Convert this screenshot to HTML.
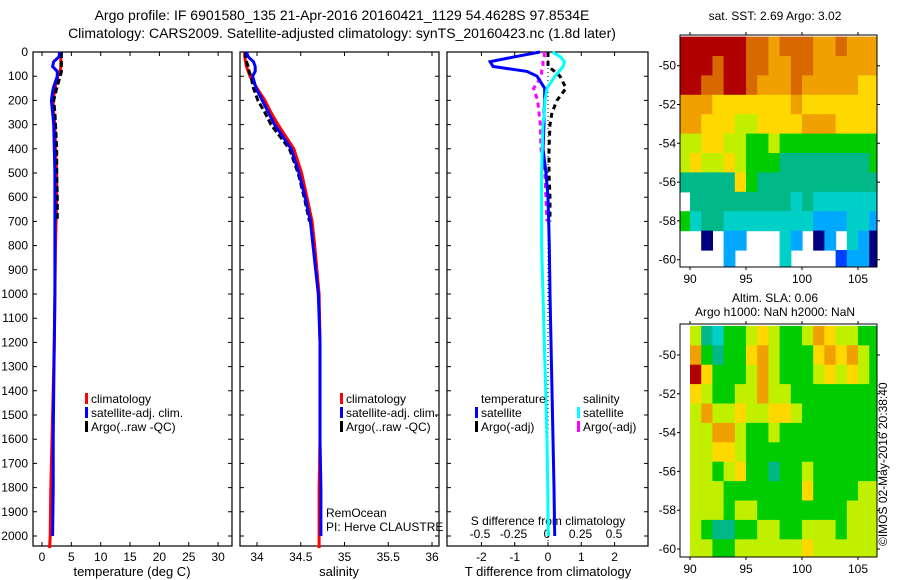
<!DOCTYPE html>
<html><head><meta charset="utf-8"><style>
body{margin:0;background:#fff}
svg{font-family:"Liberation Sans",sans-serif;display:block}
text{fill:#000}
</style></head><body>
<svg id="c" width="900" height="580" viewBox="0 0 900 580">
<text x="342" y="20" font-size="14" text-anchor="middle">Argo profile: IF 6901580_135 21-Apr-2016 20160421_1129 54.4628S 97.8534E</text>
<text x="342" y="38" font-size="14" text-anchor="middle">Climatology: CARS2009. Satellite-adjusted climatology: synTS_20160423.nc (1.8d later)</text>
<text x="775" y="20" font-size="12" text-anchor="middle">sat. SST: 2.69 Argo: 3.02</text>
<text x="775" y="302" font-size="12" text-anchor="middle">Altim. SLA: 0.06</text>
<text x="775" y="316" font-size="12" text-anchor="middle">Argo h1000: NaN h2000: NaN</text>
<text transform="translate(887,546) rotate(-90)" font-size="12">©IMOS 02-May-2016 20:38:40</text>
<g id="g"></g>
</svg>
<script>
// ---- data ----
const depthTicks=[0,100,200,300,400,500,600,700,800,900,1000,1100,1200,1300,1400,1500,1600,1700,1800,1900,2000];
const tempTicks=[0,5,10,15,20,25,30];
const salTicks=[34,34.5,35,35.5,36];
const tdiffTicks=[-2,-1,0,1,2];
const sdiffTicks=[-0.5,-0.25,0,0.25,0.5];
const depths=[0,20,40,60,80,100,150,200,250,300,400,500,600,700,800,1000,1200,1400,1600,1800,2000];
const argoDepths=[0,20,40,60,80,100,150,200,250,300,400,500,600,700];
const tempClim=[3.2,3.2,3.2,3.2,3.1,2.7,2.2,1.9,2.0,2.2,2.3,2.5,2.5,2.4,2.3,2.2,2.1,1.9,1.7,1.5,1.4];
const tempSat=[3.0,2.9,2.0,1.8,2.6,2.6,1.9,1.6,1.8,2.0,2.1,2.2,2.2,2.2,2.2,2.2,2.1,2.0,1.9,1.9,1.8];
const tempArgo=[3.3,3.3,3.3,3.3,3.3,3.1,2.5,2.0,2.2,2.3,2.5,2.5,2.6,2.6];
const salClim=[33.86,33.86,33.87,33.88,33.9,33.92,34.0,34.09,34.16,34.24,34.42,34.51,34.57,34.63,34.66,34.71,34.72,34.72,34.72,34.71,34.71];
const salSat=[33.88,33.9,33.96,33.98,33.98,33.95,33.99,34.06,34.13,34.2,34.39,34.48,34.55,34.61,34.64,34.7,34.72,34.72,34.72,34.73,34.73];
const salArgo=[33.87,33.87,33.88,33.9,33.91,33.93,33.96,34.01,34.09,34.16,34.37,34.47,34.54,34.6];
const tdiffSat=[-0.24,-1.0,-1.74,-1.65,-0.63,-0.33,-0.1,-0.1,-0.12,-0.12,-0.15,-0.06,0,0.02,0.04,0.06,0.09,0.12,0.15,0.18,0.2];
const sdiffSat=[0.04,0.1,0.13,0.12,0.09,0.06,0,-0.015,-0.02,-0.03,-0.035,-0.04,-0.04,-0.04,-0.04,-0.03,-0.02,-0.01,0,0.005,0.01];
const tdiffArgo=[0,0,0,0,0.2,0.36,0.54,0.27,0.12,0.06,0.03,0.03,0.06,0.06];
const sdiffArgo=[-0.02,-0.02,-0.03,-0.03,-0.04,-0.04,-0.1,-0.07,-0.06,-0.05,-0.045,-0.015,-0.008,0];
const sstLat0=-48.5, sstLon0=89;
const sstGrid=[
[10,10,10,10,10,10,9,9,8,9,9,9,8,8,9,8,8,8],
[10,10,10,9,10,10,9,9,8,8,9,9,8,8,8,8,8,8],
[10,10,9,9,10,10,9,8,8,8,9,8,8,8,8,8,7,7],
[8,8,8,7,7,7,7,7,7,7,8,7,7,7,7,7,7,7],
[8,8,7,7,7,6,6,7,7,7,7,8,8,8,7,7,7,7],
[6,6,7,7,6,6,5,5,6,5,5,5,5,5,5,5,5,5],
[6,7,6,6,7,6,5,5,5,4,4,4,4,4,4,4,4,5],
[4,4,4,4,4,7,5,4,4,4,4,4,4,4,4,4,4,4],
[-1,4,4,4,4,4,4,4,4,4,3,4,3,3,3,3,3,3],
[5,3,4,4,3,3,3,3,3,3,3,3,2,2,2,3,3,2],
[-1,-1,0,-1,2,2,-1,-1,-1,3,2,-1,0,2,-1,3,2,0],
[-1,-1,-1,-1,2,-1,-1,-1,-1,3,-1,-1,-1,-1,1,2,2,0]];
const slaLat0=-48.5, slaLon0=90;
const slaGrid=[
[6,4,3,5,5,6,7,6,5,5,6,8,7,6,6,5,5],
[8,5,4,5,5,7,8,6,5,5,5,7,8,7,8,6,5],
[10,7,5,5,5,6,8,6,5,5,5,6,7,6,7,6,5],
[7,6,5,5,6,6,8,6,6,5,5,5,5,5,5,5,5],
[6,8,6,6,7,6,6,7,7,6,5,5,5,5,5,5,5],
[6,6,8,8,6,5,5,6,5,5,5,5,5,5,5,5,5],
[6,6,7,7,6,5,5,5,5,5,5,5,5,5,5,5,5],
[6,6,5,6,7,5,5,4,5,5,6,5,5,5,5,5,5],
[6,6,6,5,5,5,5,5,5,5,7,5,5,5,5,6,6],
[6,6,6,5,6,6,5,5,5,5,5,5,5,5,6,6,6],
[6,5,4,4,5,5,6,6,5,5,6,6,6,5,6,6,6],
[6,6,5,5,6,6,6,6,6,6,7,6,6,6,6,6,6]];
const latTicks=[-50,-52,-54,-56,-58,-60];
const lonTicks=[90,95,100,105];
const cmap=['#000080','#0040ff','#00a8ff','#00d0c8','#00b888','#00cc00','#c0f000','#ffd800','#f0a000','#d86800','#b00000'];
// ---- helpers ----
const NS='http://www.w3.org/2000/svg';const G=document.getElementById('g');
function mk(t,a,p){const e=document.createElementNS(NS,t);for(const k in a)e.setAttribute(k,a[k]);(p||G).appendChild(e);return e;}
const yD=d=>52+d*0.242;
const xT=v=>42+v*5.87, xS=v=>257+(v-34)*87.5, xTd=v=>548+v*33.3, xSd=v=>547+v*134;
const panels=[{x0:33,x1:232,n:'temperature-panel'},{x0:240,x1:439,n:'salinity-panel'},{x0:447,x1:648,n:'difference-panel'}];
const Y1=546;
panels.forEach((p,i)=>{
 const r=mk('rect',{x:p.x0,y:52,width:p.x1-p.x0,height:Y1-52,fill:'none',stroke:'#000','stroke-width':1.2});
 
 
 depthTicks.forEach(d=>{
  const t=mk('path',{d:`M${p.x0} ${yD(d)}h4M${p.x1} ${yD(d)}h-4`,stroke:'#000'});
  
  
  if(i==0){const l=mk('text',{x:28,y:yD(d)+4,'font-size':12,'text-anchor':'end'});l.textContent=d;
   
   }
 });
});
function xticks(ticks,fx,fmt,lbl){ticks.forEach(v=>{const x=fx(v);
 const t=mk('path',{d:`M${x} ${Y1}v-4M${x} 52v4`,stroke:'#000'});
 
 
 const l=mk('text',{x:x,y:Y1+15,'font-size':12,'text-anchor':'middle'});l.textContent=fmt(v);
 
 });
}
xticks(tempTicks,xT,v=>v);xticks(salTicks,xS,v=>v);xticks(tdiffTicks,xTd,v=>v);
sdiffTicks.forEach(v=>{const l=mk('text',{x:xSd(v),y:538,'font-size':12,'text-anchor':'middle'});l.textContent=v;
 
 });
[['temperature (deg C)',132,'temperature-axis-title'],['salinity',339,'salinity-axis-title'],['T difference from climatology',548,'tdiff-axis-title']].forEach(a=>{
 const l=mk('text',{x:a[1],y:576,'font-size':13,'text-anchor':'middle'});l.textContent=a[0];
 
 });
{const l=mk('text',{x:548,y:525,'font-size':12,'text-anchor':'middle'});l.textContent='S difference from climatology';
 
 }
// zero line
{const z=mk('line',{x1:xTd(0),x2:xTd(0),y1:52,y2:Y1,stroke:'#000','stroke-dasharray':'1 3'});
 
 }
function line(ds,vs,fx,col,w,name,dash){
 const pts=ds.map((d,i)=>fx(vs[i]).toFixed(1)+','+yD(d).toFixed(1)).join(' ');
 const a={points:pts,fill:'none',stroke:col,'stroke-width':w};if(dash)a['stroke-dasharray']=dash;
 const e=mk('polyline',a);
 
 
}
const dClim=depths.concat([2050]);
line(dClim,tempClim.concat([1.3]),xT,'#f00',3,'temp-climatology-line');
line(argoDepths,tempArgo,xT,'#000',3,'temp-argo-line','6 3');
line(depths,tempSat,xT,'#00f',3,'temp-satellite-line');
line(dClim,salClim.concat([34.71]),xS,'#f00',3,'sal-climatology-line');
line(argoDepths,salArgo,xS,'#000',3,'sal-argo-line','6 3');
line(depths,salSat,xS,'#00f',3,'sal-satellite-line');
line(argoDepths,tdiffArgo,xTd,'#000',3,'tdiff-argo-line','5 4');
line(argoDepths,sdiffArgo,xSd,'#f0f',3,'sdiff-argo-line','5 4');
line(depths,tdiffSat,xTd,'#00f',3,'tdiff-satellite-line');
line(depths,sdiffSat,xSd,'#0ff',3,'sdiff-satellite-line');
// legends
function leg(x,y,col,txt,name){
 if(col){const b=mk('rect',{x:x-6,y:y-10,width:3,height:11,fill:col});
  
  }
 const t=mk('text',{x:x,y:y,'font-size':12});t.textContent=txt;
 
 
}
[[91,'temp'],[346,'sal']].forEach(a=>{
 leg(a[0],403,'#f00','climatology',a[1]+'-legend-climatology');
 leg(a[0],417,'#00f','satellite-adj. clim.',a[1]+'-legend-satellite');
 leg(a[0],431,'#000','Argo(..raw -QC)',a[1]+'-legend-argo');
});
leg(481,403,null,'temperature','diff-legend-temperature-header');
leg(481,417,'#00f','satellite','diff-legend-t-satellite');
leg(481,431,'#000','Argo(-adj)','diff-legend-t-argo');
leg(583,403,null,'salinity','diff-legend-salinity-header');
leg(583,417,'#0ff','satellite','diff-legend-s-satellite');
leg(583,431,'#f0f','Argo(-adj)','diff-legend-s-argo');
leg(326,517,null,'RemOcean','project-label');
leg(326,531,null,'PI: Herve CLAUSTRE','pi-label');
// maps
function map(grid,lat0,lon0,top,bot,y50,name){
 const xL=v=>690+(v-90)*11.2, yL=v=>y50+(-50-v)*19.4;
 const cp=mk('clipPath',{id:name+'-clip'});mk('rect',{x:680,y:top,width:197,height:bot-top},cp);
 const g=mk('g',{'clip-path':`url(#${name}-clip)`});
 
 
 grid.forEach((row,r)=>row.forEach((v,c)=>{ if(v<0)return;
  const x=xL(lon0+c),y=yL(lat0-r);
  const e=mk('rect',{x:x.toFixed(1),y:y.toFixed(1),width:11.8,height:20,fill:cmap[v]},g);
  
  
 }));
 const f=mk('rect',{x:680,y:top,width:197,height:bot-top,fill:'none',stroke:'#000'});
 
 
 latTicks.forEach(v=>{const y=yL(v);
  const t=mk('path',{d:`M680 ${y}h-3M877 ${y}h3`,stroke:'#000'});
  
  
  const l=mk('text',{x:676,y:y+4,'font-size':12,'text-anchor':'end'});l.textContent=v;
  
  });
 lonTicks.forEach(v=>{const x=xL(v);
  const t=mk('path',{d:`M${x} ${top}v-3M${x} ${bot}v3`,stroke:'#000'});
  
  
  const l=mk('text',{x:x,y:bot+16,'font-size':12,'text-anchor':'middle'});l.textContent=v;
  
  });
}
map(sstGrid,sstLat0,sstLon0,35,267,65.7,'sst-map');
map(slaGrid,slaLat0,slaLon0,324,557,355,'sla-map');
</script>
</body></html>
